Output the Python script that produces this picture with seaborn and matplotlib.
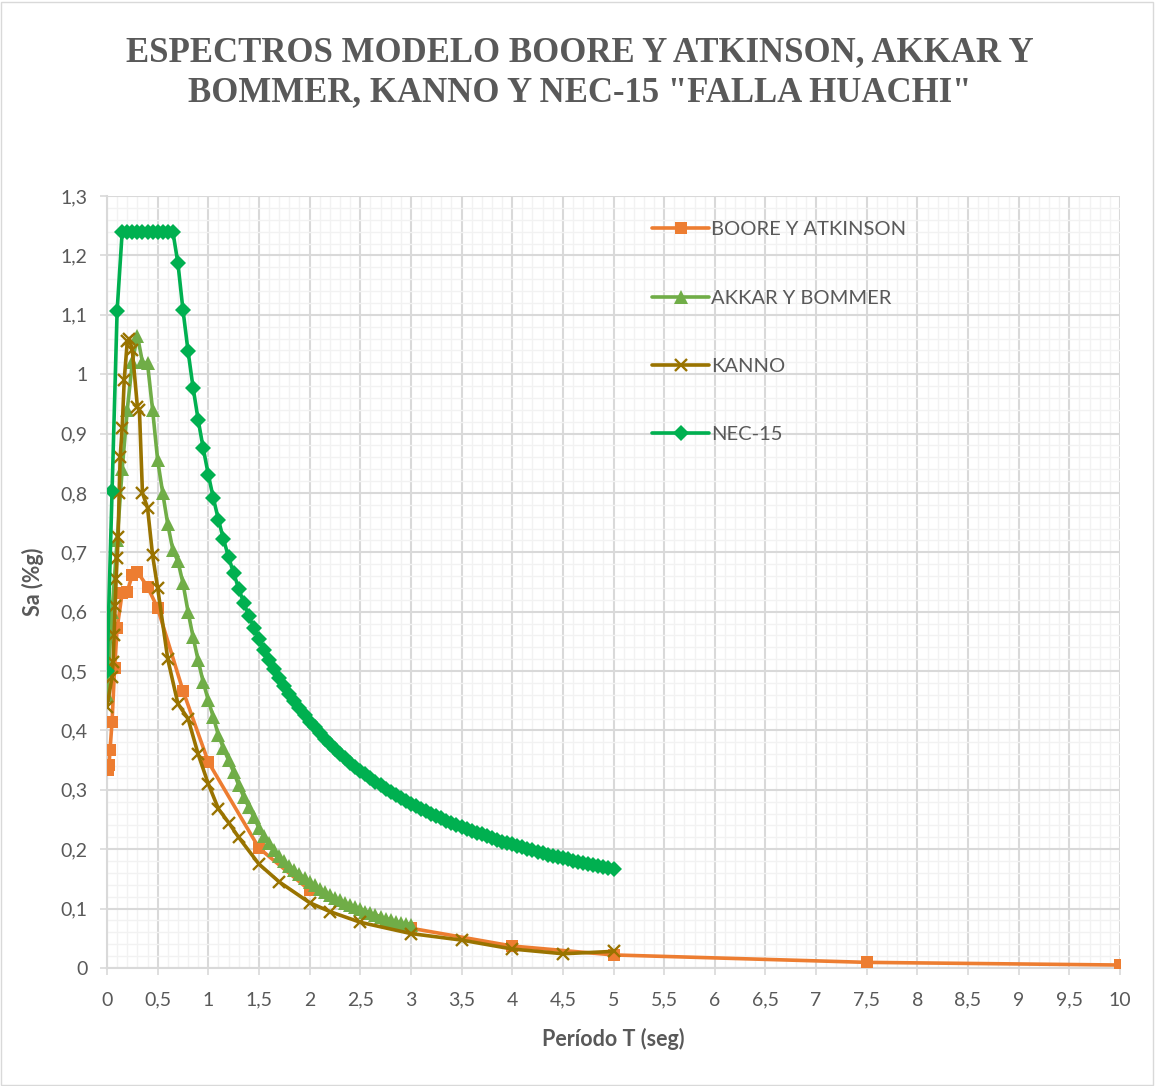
import matplotlib
matplotlib.use("Agg")
import matplotlib.pyplot as plt
from matplotlib.ticker import MultipleLocator, FuncFormatter
from matplotlib.patches import Rectangle
import numpy as np
import pandas as pd
import seaborn as sns

# ---- Boore y Atkinson ----
ba_T = [0.01, 0.02, 0.03, 0.05, 0.075, 0.1, 0.15, 0.2, 0.25, 0.3, 0.4, 0.5,
        0.75, 1.0, 1.5, 2.0, 3.0, 4.0, 5.0, 7.5, 10.0]
ba_Sa = [0.333, 0.342, 0.367, 0.415, 0.505, 0.572, 0.632, 0.634, 0.662, 0.667,
         0.642, 0.606, 0.467, 0.347, 0.202, 0.131, 0.067, 0.037, 0.022, 0.0095, 0.005]

# ---- Akkar y Bommer ----
ab_T = [0.0, 0.05, 0.1, 0.15, 0.2, 0.25, 0.3, 0.35, 0.4, 0.45, 0.5, 0.55, 0.6,
        0.65, 0.7, 0.75, 0.8, 0.85, 0.9, 0.95, 1.0, 1.05, 1.1, 1.15, 1.2, 1.25,
        1.3, 1.35, 1.4, 1.45, 1.5, 1.55, 1.6, 1.65, 1.7, 1.75, 1.8, 1.85, 1.9,
        1.95, 2.0, 2.05, 2.1, 2.15, 2.2, 2.25, 2.3, 2.35, 2.4, 2.45, 2.5, 2.55,
        2.6, 2.65, 2.7, 2.75, 2.8, 2.85, 2.9, 2.95, 3.0]
ab_Sa = [0.46, 0.60, 0.72, 0.84, 0.94, 1.02, 1.065, 1.02, 1.018, 0.94, 0.855,
         0.80, 0.747, 0.704, 0.685, 0.648, 0.600, 0.557, 0.518, 0.481, 0.451,
         0.422, 0.392, 0.370, 0.350, 0.330, 0.308, 0.288, 0.271, 0.254, 0.236,
         0.222, 0.210, 0.198, 0.188, 0.180, 0.172, 0.165, 0.158, 0.151, 0.145,
         0.139, 0.133, 0.128, 0.123, 0.118, 0.114, 0.110, 0.106, 0.102, 0.099,
         0.095, 0.092, 0.089, 0.086, 0.083, 0.081, 0.078, 0.076, 0.074, 0.072]

# ---- Kanno ----
ka_T = [0.0, 0.05, 0.06, 0.07, 0.08, 0.09, 0.1, 0.11, 0.12, 0.13, 0.15, 0.17,
        0.2, 0.22, 0.25, 0.3, 0.32, 0.35, 0.4, 0.45, 0.5, 0.6, 0.7, 0.8, 0.9,
        1.0, 1.1, 1.2, 1.3, 1.5, 1.7, 2.0, 2.2, 2.5, 3.0, 3.5, 4.0, 4.5, 5.0]
ka_Sa = [0.44, 0.49, 0.515, 0.56, 0.61, 0.655, 0.69, 0.725, 0.80, 0.86, 0.91,
         0.99, 1.055, 1.06, 1.04, 0.945, 0.94, 0.80, 0.775, 0.695, 0.64, 0.52,
         0.445, 0.42, 0.36, 0.31, 0.268, 0.245, 0.22, 0.175, 0.145, 0.11,
         0.095, 0.077, 0.058, 0.047, 0.032, 0.024, 0.028]

# ---- NEC-15 ----
nec_T = [0.0, 0.05, 0.1, 0.15, 0.2, 0.25, 0.3, 0.35, 0.4, 0.45, 0.5, 0.55, 0.6,
         0.65, 0.7, 0.75, 0.8, 0.85, 0.9, 0.95, 1.0, 1.05, 1.1, 1.15, 1.2, 1.25,
         1.3, 1.35, 1.4, 1.45, 1.5, 1.55, 1.6, 1.65, 1.7, 1.75, 1.8, 1.85, 1.9,
         1.95, 2.0, 2.05, 2.1, 2.15, 2.2, 2.25, 2.3, 2.35, 2.4, 2.45, 2.5, 2.55,
         2.6, 2.65, 2.7, 2.75, 2.8, 2.85, 2.9, 2.95, 3.0, 3.05, 3.1, 3.15, 3.2,
         3.25, 3.3, 3.35, 3.4, 3.45, 3.5, 3.55, 3.6, 3.65, 3.7, 3.75, 3.8, 3.85,
         3.9, 3.95, 4.0, 4.05, 4.1, 4.15, 4.2, 4.25, 4.3, 4.35, 4.4, 4.45, 4.5,
         4.55, 4.6, 4.65, 4.7, 4.75, 4.8, 4.85, 4.9, 4.95, 5.0]
nec_Sa = [0.500, 0.803, 1.107, 1.24, 1.24, 1.24, 1.24, 1.24, 1.24, 1.24, 1.24,
          1.24, 1.24, 1.24, 1.187, 1.108, 1.039, 0.977, 0.923, 0.875, 0.831,
          0.791, 0.755, 0.722, 0.692, 0.665, 0.639, 0.615, 0.593, 0.573, 0.554,
          0.536, 0.519, 0.504, 0.489, 0.475, 0.462, 0.449, 0.437, 0.426, 0.415,
          0.405, 0.396, 0.386, 0.378, 0.369, 0.361, 0.354, 0.346, 0.339, 0.332,
          0.326, 0.320, 0.314, 0.308, 0.302, 0.297, 0.292, 0.286, 0.282, 0.277,
          0.272, 0.268, 0.264, 0.260, 0.256, 0.252, 0.248, 0.244, 0.241, 0.237,
          0.234, 0.231, 0.228, 0.225, 0.222, 0.219, 0.216, 0.213, 0.210, 0.208,
          0.205, 0.203, 0.200, 0.198, 0.195, 0.193, 0.191, 0.189, 0.187, 0.185,
          0.183, 0.181, 0.179, 0.177, 0.175, 0.173, 0.171, 0.170, 0.168, 0.166]

series_names = ["BOORE Y ATKINSON", "AKKAR Y BOMMER", "KANNO", "NEC-15"]
title_text = 'ESPECTROS MODELO BOORE Y ATKINSON, AKKAR Y\nBOMMER, KANNO Y NEC-15 "FALLA HUACHI"'
x_label = "Período T (seg)"
y_label = "Sa (%g)"

sns.set_theme(style="white")
plt.rcParams["font.family"] = ["Lato", "DejaVu Sans"]

TEXT = "#595959"
styles = {
    "BOORE Y ATKINSON": dict(color="#ED7D31", marker="s", ms=9.0, mew=0),
    "AKKAR Y BOMMER": dict(color="#70AD47", marker="^", ms=10.0, mew=0),
    "KANNO": dict(color="#997300", marker="x", ms=9.0, mew=1.7),
    "NEC-15": dict(color="#00B050", marker="D", ms=8.0, mew=0),
}
data = {
    "BOORE Y ATKINSON": (ba_T, ba_Sa),
    "AKKAR Y BOMMER": (ab_T, ab_Sa),
    "KANNO": (ka_T, ka_Sa),
    "NEC-15": (nec_T, nec_Sa),
}

fig = plt.figure(figsize=(11.55, 10.86), dpi=100)
ax = fig.add_axes([107 / 1155, 1 - 968 / 1086, (1120 - 107) / 1155, (968 - 196) / 1086])

for name in series_names:
    T, Sa = data[name]
    df = pd.DataFrame({"T": T, "Sa": Sa})
    st = styles[name]
    sns.lineplot(data=df, x="T", y="Sa", ax=ax, estimator=None, sort=False,
                 color=st["color"], lw=2.6, marker=st["marker"],
                 markersize=st["ms"], markeredgewidth=st["mew"],
                 markeredgecolor=st["color"], markerfacecolor=st["color"],
                 label=name, zorder=3)

ax.set_xlim(0, 10)
ax.set_ylim(0, 1.3)
ax.xaxis.set_major_locator(MultipleLocator(0.5))
ax.xaxis.set_minor_locator(MultipleLocator(0.1))
ax.yaxis.set_major_locator(MultipleLocator(0.1))
ax.yaxis.set_minor_locator(MultipleLocator(0.02))

fmt = FuncFormatter(lambda v, p: ("%g" % round(v, 2)).replace(".", ","))
ax.xaxis.set_major_formatter(fmt)
ax.yaxis.set_major_formatter(fmt)

ax.grid(which="major", color="#D9D9D9", lw=1.5, zorder=0)
ax.grid(which="minor", color="#F2F2F2", lw=1.0, zorder=0)
ax.set_axisbelow(True)

for side in ["top", "right"]:
    ax.spines[side].set_visible(False)
for side in ["left", "bottom"]:
    ax.spines[side].set_color("#D9D9D9")
    ax.spines[side].set_linewidth(1.5)

ax.tick_params(axis="both", which="major", labelsize=14, labelcolor=TEXT,
               color="#D9D9D9", length=5, width=1.2, direction="out",
               left=True, bottom=True)
ax.tick_params(axis="both", which="minor", length=0)
ax.tick_params(axis="x", pad=12)
ax.tick_params(axis="y", pad=9)

ax.set_xlabel(x_label, fontsize=15.5, fontweight="bold", color=TEXT, labelpad=14)
ax.set_ylabel(y_label, fontsize=15.5, fontweight="bold", color=TEXT, labelpad=12)

fig.text(0.502, 0.933, title_text, ha="center", va="center", fontsize=25,
         fontweight="bold", color=TEXT, family="Liberation Serif",
         linespacing=1.3)

leg = ax.legend(loc="upper left", bbox_to_anchor=((652 - 107) / 1013, (968 - 221) / 772),
                frameon=False, fontsize=14.5, labelspacing=2.55, handlelength=2.85,
                handletextpad=0.1, borderpad=0, borderaxespad=0)
for t in leg.get_texts():
    t.set_color(TEXT)

fig.patches.append(Rectangle((0.001, 0.001), 0.997, 0.997, transform=fig.transFigure,
                             fill=False, ec="#D9D9D9", lw=1.0))

fig.savefig("out.png", dpi=100, facecolor="white")
